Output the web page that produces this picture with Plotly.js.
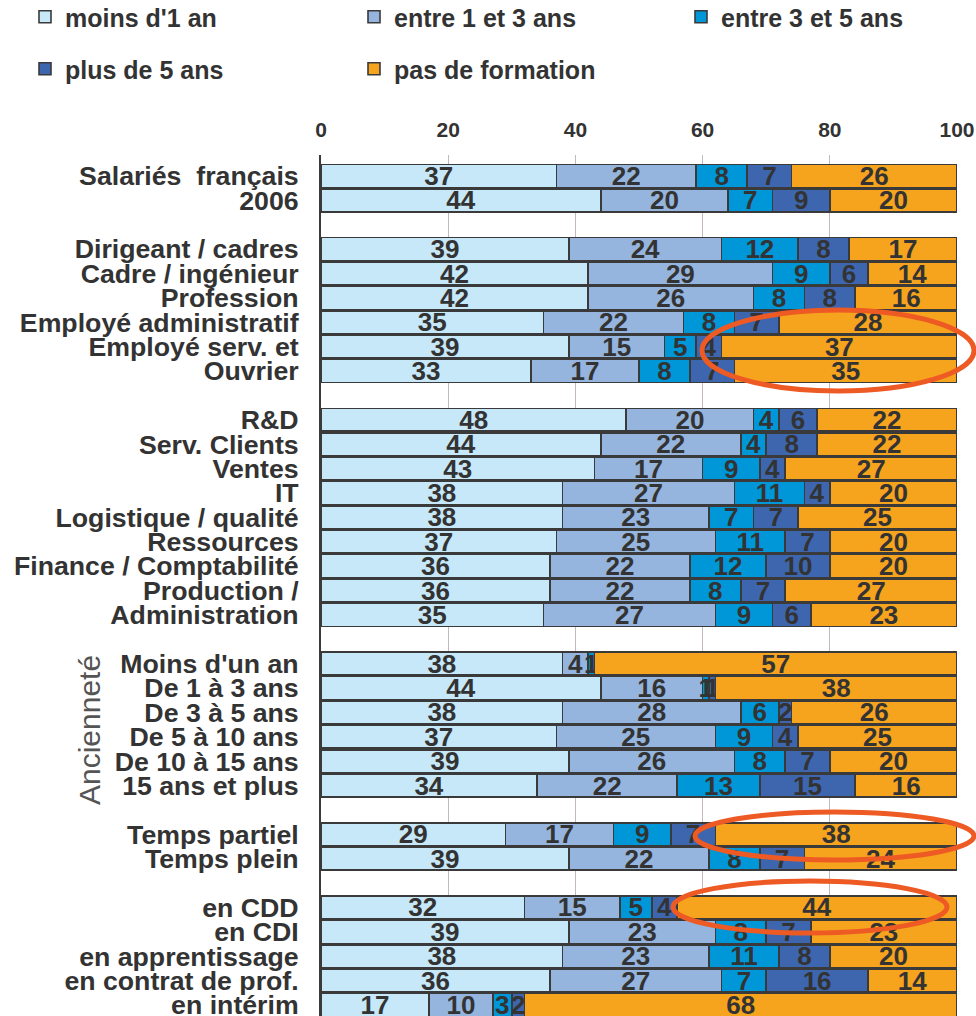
<!DOCTYPE html>
<html>
<head>
<meta charset="utf-8">
<script src="https://cdn.plot.ly/plotly-3.0.1.min.js"></script>
<style>
  html, body { margin: 0; padding: 0; background: #ffffff; }
  #chart { width: 976px; height: 1016px; }
</style>
</head>
<body>
<div id="chart"></div>
<script>
// ---- data ----
const categories = [
  "Salariés  français", "2006",
  "Dirigeant / cadres", "Cadre / ingénieur", "Profession", "Employé administratif", "Employé serv. et", "Ouvrier",
  "R&D", "Serv. Clients", "Ventes", "IT", "Logistique / qualité", "Ressources", "Finance / Comptabilité", "Production /", "Administration",
  "Moins d'un an", "De 1 à 3 ans", "De 3 à 5 ans", "De 5 à 10 ans", "De 10 à 15 ans", "15 ans et plus",
  "Temps partiel", "Temps plein",
  "en CDD", "en CDI", "en apprentissage", "en contrat de prof.", "en intérim"
];
// group sizes (blank row drawn between groups)
const groupSizes = [2, 6, 9, 6, 2, 5];

const seriesNames = ["moins d'1 an", "entre 1 et 3 ans", "entre 3 et 5 ans", "plus de 5 ans", "pas de formation"];

const moinsUnAn      = [37,44,39,42,42,35,39,33,48,44,43,38,38,37,36,36,35,38,44,38,37,39,34,29,39,32,39,38,36,17];
const entre1et3      = [22,20,24,29,26,22,15,17,20,22,17,27,23,25,22,22,27, 4,16,28,25,26,22,17,22,15,23,23,27,10];
const entre3et5      = [ 8, 7,12, 9, 8, 8, 5, 8, 4, 4, 9,11, 7,11,12, 8, 9, 1, 1, 6, 9, 8,13, 9, 8, 5, 8,11, 7, 3];
const plusDe5        = [ 7, 9, 8, 6, 8, 7, 4, 7, 6, 8, 4, 4, 7, 7,10, 7, 6, 0, 1, 2, 4, 7,15, 7, 7, 4, 7, 8,16, 2];
const pasDeFormation = [26,20,17,14,16,28,37,35,22,22,27,20,25,20,20,27,23,57,38,26,25,20,16,38,24,44,23,20,14,68];

const xTicks = [0, 20, 40, 60, 80, 100];

// ---- styling ----
const colors = ["#C7E8F8", "#95B5DE", "#0097D8", "#3D66AF", "#F6A31E"];
const FONT = "Liberation Sans, Arial, Helvetica, sans-serif";
const TXT = "#333333";

// category order including blank spacer rows between groups
const categoryOrder = [];
let k = 0;
groupSizes.forEach((n, gi) => {
  for (let i = 0; i < n; i++) categoryOrder.push(categories[k++]);
  if (gi < groupSizes.length - 1) categoryOrder.push("__gap" + gi);
});

const allValues = [moinsUnAn, entre1et3, entre3et5, plusDe5, pasDeFormation];
const legendIds = ["legend", "legend2", "legend3", "legend4", "legend5"];

const traces = allValues.map((vals, i) => ({
  type: "bar",
  orientation: "h",
  name: seriesNames[i],
  legend: legendIds[i],
  y: categories,
  x: vals,
  width: 0.94,
  text: vals.map(v => v > 0 ? String(v) : ""),
  texttemplate: "%{text}",
  textposition: "inside",
  insidetextanchor: "middle",
  textangle: 0,
  constraintext: "none",
  cliponaxis: false,
  textfont: { family: FONT, size: 26, color: TXT, weight: "bold" },
  insidetextfont: { family: FONT, size: 26, color: TXT, weight: "bold" },
  marker: { color: colors[i], line: { color: "#3a3a3a", width: 1.6 } },
  hoverinfo: "skip"
}));

// pixel -> paper coords
const L = 321, R = 957, T = 155, B = 1016;
function px(xp) { return (xp - L) / (R - L); }
function py(yp) { return (B - yp) / (B - T); }
function ellipse(x0, y0, x1, y1) {
  return {
    type: "circle", xref: "paper", yref: "paper", layer: "above",
    x0: px(x0), x1: px(x1), y0: py(y1), y1: py(y0),
    line: { color: "#EE5A24", width: 5 }, fillcolor: "rgba(0,0,0,0)"
  };
}
function legendAt(leftPx, topPx) {
  return {
    orientation: "v",
    xref: "paper", yref: "paper",
    x: px(leftPx), y: py(topPx),
    xanchor: "left", yanchor: "top",
    font: { family: FONT, size: 25, color: TXT, weight: "bold" },
    bgcolor: "rgba(0,0,0,0)",
    borderwidth: 0
  };
}

const layout = {
  width: 976, height: 1016,
  margin: { l: L, r: 976 - R, t: T, b: 0, pad: 0, autoexpand: false },
  paper_bgcolor: "#ffffff", plot_bgcolor: "#ffffff",
  barmode: "stack",
  showlegend: true,
  hovermode: false,
  legend:  legendAt(25, -6),
  legend2: legendAt(354, -6),
  legend3: legendAt(681, -6),
  legend4: legendAt(25, 46),
  legend5: legendAt(354, 46),
  xaxis: {
    side: "top",
    range: [0, 100],
    tickvals: xTicks,
    ticktext: xTicks.map(String),
    tickfont: { family: FONT, size: 21, color: TXT, weight: "bold" },
    ticks: "",
    ticklabelstandoff: 13,
    showgrid: true, gridcolor: "#c4b8c0", gridwidth: 1,
    zeroline: false, showline: false,
    fixedrange: true
  },
  yaxis: {
    type: "category",
    categoryorder: "array",
    categoryarray: categoryOrder,
    range: [34.45, -0.86],
    tickvals: categories,
    ticktext: categories,
    tickfont: { family: FONT, size: 26.7, color: TXT, weight: "bold" },
    ticks: "",
    ticklabelstandoff: 15,
    showgrid: false,
    showline: true, linecolor: "#3a3a3a", linewidth: 2,
    zeroline: false,
    fixedrange: true
  },
  annotations: [{
    text: "Ancienneté",
    xref: "paper", yref: "paper",
    x: px(89), y: py(730),
    xanchor: "center", yanchor: "middle",
    textangle: -90, showarrow: false,
    font: { family: FONT, size: 30, color: "#555555" }
  }],
  shapes: [
    ellipse(702, 310, 974, 391),
    ellipse(695, 812, 974, 860),
    ellipse(673, 881, 947, 933)
  ]
};

Plotly.newPlot("chart", traces, layout, { displayModeBar: false, staticPlot: true });
</script>
</body>
</html>
